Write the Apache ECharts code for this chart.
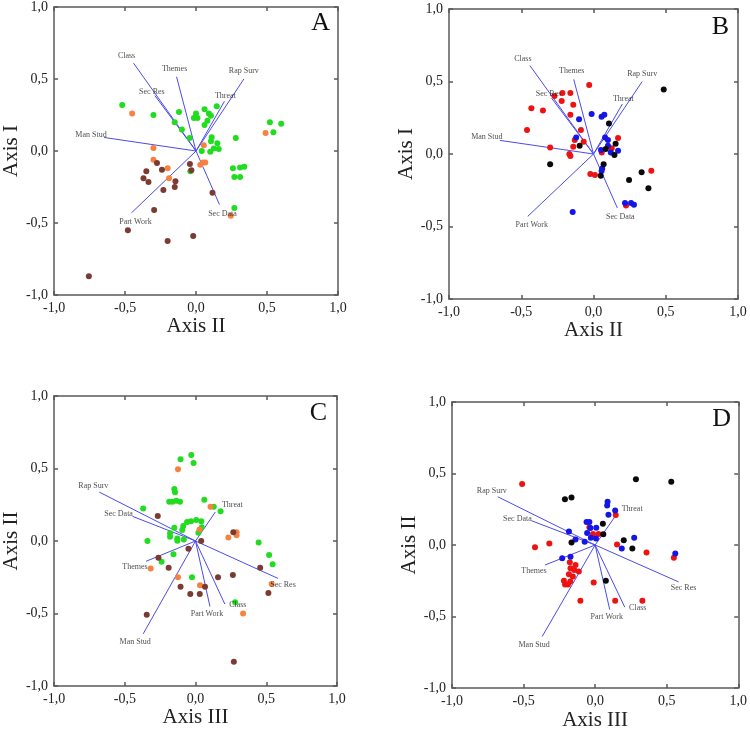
<!DOCTYPE html>
<html>
<head>
<meta charset="utf-8">
<script src="https://cdn.jsdelivr.net/npm/echarts@6/dist/echarts.min.js"></script>
<style>
  html, body { margin: 0; background: #fff; }
  #chart { width: 750px; height: 732px; }
</style>
</head>
<body>
<div id="chart"></div>
<script>
// variable vectors (loadings), same for A/B and for C/D
const vecNames = ['Class', 'Themes', 'Rap Surv', 'Threat', 'Sec Res', 'Man Stud', 'Part Work', 'Sec Data']
const vecAB_x = [-0.44, -0.137, 0.337, 0.20, -0.29, -0.648, -0.455, 0.165]
const vecAB_y = [0.61, 0.515, 0.50, 0.345, 0.385, 0.094, -0.43, -0.372]
const vecCD_x = [0.207, -0.35, -0.68, 0.14, 0.583, -0.37, 0.102, -0.445]
const vecCD_y = [-0.435, -0.14, 0.337, 0.20, -0.258, -0.64, -0.452, 0.17]

// panel A : Axis II (x) vs Axis I (y)
const aGreen = [[-0.52,0.32],[-0.30,0.25],[-0.12,0.27],[-0.15,0.20],[-0.10,0.15],[-0.045,0.09],[0.00,0.26],[-0.015,0.23],[0.01,0.23],[0.06,0.29],[0.09,0.26],[0.105,0.245],[0.08,0.21],[0.06,0.18],[0.146,0.31],[0.11,0.095],[0.105,0.067],[0.15,0.053],[0.16,0.014],[0.125,0.018],[0.10,-0.005],[0.04,0.0],[0.28,0.09],[0.52,0.20],[0.60,0.19],[0.545,0.13],[0.26,-0.12],[0.31,-0.115],[0.34,-0.11],[0.27,-0.18],[0.31,-0.18],[0.27,-0.395],[-0.04,-0.14]]
const aOrange = [[-0.45,0.26],[-0.30,0.02],[-0.30,-0.06],[-0.20,-0.12],[-0.19,-0.19],[0.055,0.04],[0.065,-0.08],[0.05,-0.08],[0.03,-0.095],[0.49,0.125],[0.245,-0.45]]
const aBrown = [[-0.275,-0.083],[-0.24,-0.13],[-0.35,-0.14],[-0.37,-0.19],[-0.335,-0.215],[-0.145,-0.21],[-0.15,-0.25],[-0.23,-0.27],[-0.043,-0.09],[-0.033,-0.134],[-0.295,-0.41],[0.116,-0.29],[-0.48,-0.55],[-0.20,-0.625],[-0.02,-0.59],[-0.755,-0.87]]

// panel B : Axis II (x) vs Axis I (y)
const bRed = [[-0.03,0.476],[-0.215,0.42],[-0.16,0.42],[-0.27,0.40],[-0.22,0.365],[-0.14,0.34],[-0.43,0.315],[-0.35,0.30],[-0.16,0.27],[-0.46,0.165],[-0.087,0.165],[0.17,0.11],[-0.13,0.097],[-0.068,0.085],[-0.14,0.05],[-0.30,0.044],[-0.167,0.0],[-0.16,-0.014],[0.057,0.011],[0.126,0.04],[-0.022,-0.138],[0.01,-0.145],[0.40,-0.115],[0.225,-0.356]]
const bBlue = [[-0.013,0.276],[0.056,0.257],[0.075,0.27],[-0.10,0.24],[-0.12,0.113],[0.08,0.113],[0.10,0.097],[0.052,0.028],[0.10,0.057],[0.12,0.01],[0.17,0.023],[0.06,-0.10],[0.056,-0.117],[0.218,-0.338],[0.26,-0.338],[0.28,-0.35],[-0.144,-0.40]]
const bBlack = [[0.486,0.444],[0.107,0.21],[-0.096,0.057],[0.153,0.07],[0.085,0.034],[0.145,-0.007],[0.07,-0.07],[0.05,-0.15],[-0.30,-0.07],[0.333,-0.126],[0.246,-0.18],[0.38,-0.237]]

// panel C : Axis III (x) vs Axis II (y)
const cGreen = [[-0.106,0.563],[-0.03,0.593],[-0.014,0.538],[-0.15,0.359],[-0.145,0.336],[-0.186,0.27],[-0.163,0.27],[-0.136,0.278],[-0.11,0.27],[0.062,0.285],[0.129,0.237],[0.177,0.205],[-0.37,0.225],[-0.34,0.0],[-0.15,0.092],[-0.18,0.053],[-0.18,0.03],[-0.129,0.018],[-0.129,0.002],[-0.083,0.011],[-0.094,0.076],[-0.087,0.103],[-0.06,0.131],[-0.032,0.136],[0.005,0.145],[0.041,0.136],[0.044,0.094],[0.02,0.057],[-0.156,-0.092],[-0.24,-0.143],[-0.025,-0.25],[0.446,-0.01],[0.52,-0.097],[0.545,-0.16],[0.28,-0.423]]
const cOrange = [[-0.124,0.494],[0.106,0.237],[0.028,0.08],[0.232,0.025],[0.29,0.06],[0.29,0.04],[-0.317,-0.19],[-0.124,-0.25],[0.032,-0.306],[0.538,-0.297],[0.336,-0.5]]
const cBrown = [[-0.267,0.172],[0.267,0.06],[0.04,0.0],[-0.05,-0.053],[-0.262,-0.115],[-0.19,-0.184],[0.457,-0.184],[0.264,-0.234],[0.159,-0.25],[-0.106,-0.315],[0.067,-0.315],[-0.037,-0.366],[0.03,-0.366],[0.515,-0.359],[-0.345,-0.508],[0.271,-0.832]]

// panel D : Axis III (x) vs Axis II (y)
const dRed = [[-0.51,0.426],[0.144,0.21],[-0.04,0.125],[-0.015,0.077],[0.024,0.077],[-0.42,-0.015],[-0.32,0.01],[0.153,0.003],[0.359,-0.052],[0.55,-0.089],[-0.177,-0.12],[-0.137,-0.14],[-0.172,-0.163],[-0.146,-0.174],[-0.114,-0.186],[-0.183,-0.204],[-0.156,-0.22],[-0.218,-0.25],[-0.19,-0.277],[-0.21,-0.277],[-0.174,-0.255],[-0.01,-0.262],[-0.103,-0.39],[0.14,-0.39],[0.33,-0.39]]
const dBlue = [[0.087,0.303],[0.084,0.276],[0.093,0.211],[0.14,0.241],[-0.06,0.16],[-0.04,0.16],[-0.033,0.119],[0.008,0.121],[-0.183,0.095],[-0.056,0.084],[-0.03,0.05],[0.006,0.045],[-0.137,0.038],[-0.073,0.022],[0.273,0.05],[0.186,-0.024],[0.56,-0.059],[-0.23,-0.093],[-0.172,-0.082]]
const dBlack = [[0.285,0.46],[0.532,0.442],[-0.211,0.32],[-0.165,0.333],[0.054,0.149],[0.057,0.075],[-0.165,0.017],[0.20,0.033],[0.26,-0.024],[0.075,-0.25]]

const tickValues = [-1, -0.5, 0, 0.5, 1]

// label offsets (px) from vector tip to label centre
const labelOffAB = { 'Class': [-7, -7], 'Themes': [-2, -8], 'Rap Surv': [0, -8], 'Threat': [1, -5], 'Sec Res': [-3, -4], 'Man Stud': [-13, -3], 'Part Work': [4, 9], 'Sec Data': [3, 9] }
const labelOffCD = { 'Rap Surv': [-6, -6], 'Sec Data': [-14, -2], 'Threat': [17, -7], 'Themes': [-11, 6], 'Sec Res': [5, 6], 'Class': [13, 1], 'Part Work': [-3, 7], 'Man Stud': [-8, 8] }

const serif = 'Liberation Serif'
const frame = '#5a5a5a'
const vecColor = '#4b4bec'
const colors = { green: '#21dc1f', orange: '#f6823f', brown: '#7b3b33', red: '#ee1212', blue: '#1515e6', black: '#0a0a0a' }

const panels = [
  { grid: { left: 49, top: 6, width: 289, height: 289 }, xName: 'Axis II', yName: 'Axis I', gapX: 20, letter: 'A', lx: 330, ly: 25,
    vx: vecAB_x, vy: vecAB_y, off: labelOffAB, groups: [[aGreen, colors.green], [aOrange, colors.orange], [aBrown, colors.brown]] },
  { grid: { left: 449, top: 9, width: 289, height: 290 }, xName: 'Axis II', yName: 'Axis I', gapX: 20, letter: 'B', lx: 729, ly: 29,
    vx: vecAB_x, vy: vecAB_y, off: labelOffAB, groups: [[bRed, colors.red], [bBlue, colors.blue], [bBlack, colors.black]] },
  { grid: { left: 47, top: 396, width: 290, height: 290 }, xName: 'Axis III', yName: 'Axis II', gapX: 20, letter: 'C', lx: 327, ly: 415,
    vx: vecCD_x, vy: vecCD_y, off: labelOffCD, groups: [[cGreen, colors.green], [cOrange, colors.orange], [cBrown, colors.brown]] },
  { grid: { left: 452, top: 402, width: 289, height: 289 }, xName: 'Axis III', yName: 'Axis II', gapX: 22, letter: 'D', lx: 731, ly: 421,
    vx: vecCD_x, vy: vecCD_y, off: labelOffCD, groups: [[dRed, colors.red], [dBlue, colors.blue], [dBlack, colors.black]] }
]

const fmt = v => v.toFixed(1).replace('.', ',')

const makeAxis = (i, pos, p) => {
  const main = pos === 'bottom' || pos === 'left'
  const isX = pos === 'bottom' || pos === 'top'
  return {
    gridIndex: i, type: 'value', position: pos,
    min: tickValues[0], max: tickValues[tickValues.length - 1], interval: 0.5,
    axisLine: { onZero: false, lineStyle: { color: frame, width: 1.5 } },
    axisTick: { inside: true, length: 4, lineStyle: { color: frame, width: 1.5 } },
    axisLabel: { show: main, formatter: fmt, fontFamily: serif, fontSize: 14, color: '#222', margin: 6, showMinLabel: true, showMaxLabel: true },
    splitLine: { show: false },
    name: main ? (isX ? p.xName : p.yName) : '',
    nameLocation: 'middle',
    nameGap: isX ? p.gapX : 28,
    nameTextStyle: { fontFamily: serif, fontSize: 21, color: '#222' }
  }
}

const xAxis = [], yAxis = [], series = [], graphic = []

panels.forEach((p, i) => {
  xAxis.push(makeAxis(i, 'bottom', p), makeAxis(i, 'top', p))
  yAxis.push(makeAxis(i, 'left', p), makeAxis(i, 'right', p))
  const xi = i * 2, yi = i * 2

  // vectors from the origin
  vecNames.forEach((n, k) => {
    series.push({
      type: 'line', xAxisIndex: xi, yAxisIndex: yi, silent: true, showSymbol: false,
      lineStyle: { color: vecColor, width: 1 },
      data: [[0, 0], [p.vx[k], p.vy[k]]], z: 2
    })
  })

  p.groups.forEach(([pts, c]) => {
    series.push({
      type: 'scatter', xAxisIndex: xi, yAxisIndex: yi, symbolSize: 6,
      itemStyle: { color: c, opacity: 1 }, data: pts, z: 3
    })
  })

  // vector names at the tips
  series.push({
    type: 'scatter', xAxisIndex: xi, yAxisIndex: yi, symbolSize: 1, silent: true,
    itemStyle: { color: 'rgba(0,0,0,0)' }, z: 4,
    data: vecNames.map((n, k) => ({
      value: [p.vx[k], p.vy[k]], name: n,
      label: { show: true, position: 'inside', offset: p.off[n], formatter: n,
        fontFamily: serif, fontSize: 8, color: '#1a1a1a' }
    }))
  })

  graphic.push({
    type: 'text', right: 750 - p.lx, top: p.ly - 15,
    style: { text: p.letter, font: '26px "Liberation Serif"', fill: '#111' }
  })
})

const chart = echarts.init(document.getElementById('chart'))
chart.setOption({
  animation: false,
  backgroundColor: '#fff',
  grid: panels.map(p => Object.assign({ containLabel: false }, p.grid)),
  xAxis, yAxis, series, graphic
})
</script>
</body>
</html>
